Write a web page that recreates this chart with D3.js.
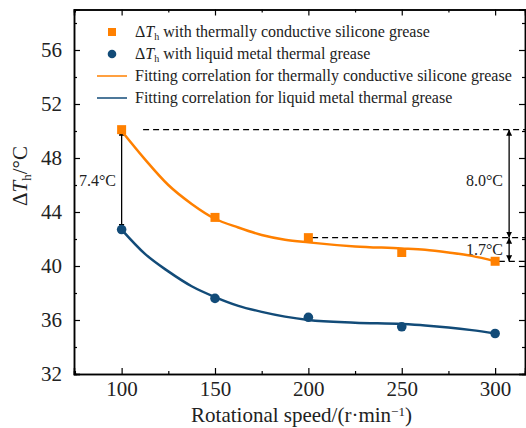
<!DOCTYPE html>
<html><head><meta charset="utf-8">
<script src="https://cdn.jsdelivr.net/npm/d3@7/dist/d3.min.js"></script>
<style>body{margin:0;background:#fff}svg{display:block;font-family:"Liberation Serif","Times New Roman",serif}</style>
</head><body>
<svg id="c" width="526" height="428"></svg>
<script>
const speeds = [100, 150, 200, 250, 300];
const siliconeVals = [50.1, 43.6, 42.1, 41.0, 40.35];
const liquidVals = [42.7, 37.6, 36.2, 35.5, 35.0];
const fitX = [100, 112.5, 125, 137.5, 150, 162.5, 175, 187.5, 200, 225, 250, 262.5, 275, 287.5, 300];
const siliconeFit = [50.0, 47.9, 46.0, 44.6, 43.5, 42.85, 42.3, 41.95, 41.75, 41.45, 41.3, 41.2, 41.0, 40.75, 40.35];
const liquidFit = [42.7, 40.9, 39.6, 38.5, 37.7, 37.05, 36.6, 36.25, 36.0, 35.8, 35.7, 35.6, 35.45, 35.25, 35.0];
const xTicks = [100, 150, 200, 250, 300];
const yTicks = [32, 36, 40, 44, 48, 52, 56];
const legendLabels = ["with thermally conductive silicone grease", "with liquid metal thermal grease",
  "Fitting correlation for thermally conductive silicone grease", "Fitting correlation for liquid metal thermal grease"];

const ORANGE = "#ff8000", BLUE = "#124b78";
const svg = d3.select("#c");
const L = 74, R = 525, T = 9.5, B = 374;
const x = d3.scaleLinear().domain([74.5, 316]).range([L, R]);
const y = d3.scaleLinear().domain([32, 59]).range([B, T]);

// axes
const fs = 21;
svg.append("g").attr("transform", `translate(0,${B})`)
  .call(d3.axisBottom(x).tickValues(xTicks).tickSize(-6).tickPadding(7).tickFormat(d3.format("d")));
svg.append("g").attr("transform", `translate(0,${B})`)
  .call(d3.axisBottom(x).tickValues([75,125,175,225,275]).tickSize(-3).tickFormat(""));
svg.append("g").attr("transform", `translate(0,${T})`)
  .call(d3.axisTop(x).tickValues(xTicks).tickSize(-6).tickFormat(""));
svg.append("g").attr("transform", `translate(0,${T})`)
  .call(d3.axisTop(x).tickValues([75,125,175,225,275]).tickSize(-3).tickFormat(""));
svg.append("g").attr("transform", `translate(${L},0)`)
  .call(d3.axisLeft(y).tickValues(yTicks).tickSize(-6).tickPadding(12).tickFormat(d3.format("d")));
svg.append("g").attr("transform", `translate(${L},0)`)
  .call(d3.axisLeft(y).tickValues([34,38,42,46,50,54,58]).tickSize(-3).tickFormat(""));
svg.append("g").attr("transform", `translate(${R},0)`)
  .call(d3.axisRight(y).tickValues(yTicks).tickSize(-6).tickFormat(""));
svg.append("g").attr("transform", `translate(${R},0)`)
  .call(d3.axisRight(y).tickValues([34,38,42,46,50,54,58]).tickSize(-3).tickFormat(""));
svg.selectAll(".domain").attr("stroke", "#000").attr("stroke-width", 1.5);
svg.selectAll(".tick line").attr("stroke", "#000").attr("stroke-width", 1.2);
svg.selectAll(".tick text").attr("font-size", fs).attr("font-family", "Liberation Serif").attr("fill", "#222");

// axis titles
svg.append("text").attr("x", (L + R) / 2 + 2).attr("y", 421.5).attr("text-anchor", "middle")
  .attr("font-size", 21).attr("fill", "#222")
  .html('Rotational speed/(r·min<tspan dy="-6" font-size="13">−1</tspan><tspan dy="6">)</tspan>');
const yt = svg.append("text").attr("transform", "translate(27,176) rotate(-90)").attr("text-anchor", "middle")
  .attr("font-size", fs).attr("fill", "#222");
yt.append("tspan").text("Δ");
yt.append("tspan").attr("font-style", "italic").text("T");
yt.append("tspan").attr("font-size", 13).attr("dy", 4).text("h");
yt.append("tspan").attr("dy", -4).text("/°C");

// annotations
const ann = svg.append("g").attr("stroke", "#000").attr("stroke-width", 1.3);
const dash = "6,4";
ann.append("line").attr("x1", x(111.5)).attr("x2", R).attr("y1", y(siliconeVals[0])).attr("y2", y(siliconeVals[0])).attr("stroke-dasharray", dash);
ann.append("line").attr("x1", x(202)).attr("x2", R).attr("y1", y(siliconeVals[2])).attr("y2", y(siliconeVals[2])).attr("stroke-dasharray", dash);
ann.append("line").attr("x1", x(302)).attr("x2", R).attr("y1", y(siliconeVals[4])).attr("y2", y(siliconeVals[4])).attr("stroke-dasharray", dash);

const defs = svg.append("defs");
defs.append("marker").attr("id", "ah").attr("viewBox", "0 0 10 10").attr("refX", 10).attr("refY", 5)
  .attr("markerWidth", 6).attr("markerHeight", 6).attr("markerUnits", "userSpaceOnUse").attr("orient", "auto-start-reverse")
  .append("path").attr("d", "M0,0L10,5L0,10Z").attr("fill", "#000");
function dArrow(xv, y1, y2) {
  svg.append("line").attr("x1", x(xv)).attr("x2", x(xv)).attr("y1", y(y1)).attr("y2", y(y2))
    .attr("stroke", "#000").attr("stroke-width", 1.3)
    .attr("marker-start", "url(#ah)").attr("marker-end", "url(#ah)");
}
dArrow(100, siliconeVals[0], liquidVals[0]);
dArrow(307.5, siliconeVals[0], siliconeVals[2]);
dArrow(307.5, siliconeVals[2], siliconeVals[4]);
const annFs = 16;
svg.append("text").attr("x", 116).attr("y", y(46.3) + 5).attr("text-anchor", "end").attr("font-size", annFs).attr("fill", "#222").text("7.4°C");
svg.append("text").attr("x", 503).attr("y", y(46.3) + 5).attr("text-anchor", "end").attr("font-size", annFs).attr("fill", "#222").text("8.0°C");
svg.append("text").attr("x", 503).attr("y", y(41.2) + 5).attr("text-anchor", "end").attr("font-size", annFs).attr("fill", "#222").text("1.7°C");

// fit lines
const line = d3.line().x(d => x(d[0])).y(d => y(d[1])).curve(d3.curveMonotoneX);
svg.append("path").datum(d3.zip(fitX, siliconeFit)).attr("d", line).attr("fill", "none").attr("stroke", ORANGE).attr("stroke-width", 2.5);
svg.append("path").datum(d3.zip(fitX, liquidFit)).attr("d", line).attr("fill", "none").attr("stroke", BLUE).attr("stroke-width", 2.5);

// markers
const sq = 9;
svg.selectAll(".sq").data(d3.zip(speeds, siliconeVals)).join("rect")
  .attr("x", d => x(d[0]) - sq / 2).attr("y", d => y(d[1]) - sq / 2).attr("width", sq).attr("height", sq).attr("fill", ORANGE);
svg.selectAll(".ci").data(d3.zip(speeds, liquidVals)).join("circle")
  .attr("cx", d => x(d[0])).attr("cy", d => y(d[1])).attr("r", 4.8).attr("fill", BLUE);

// legend
const lg = svg.append("g");
const lx = 135, ly0 = 32, lstep = 22, lfs = 16;
lg.append("rect").attr("x", 112 - 4).attr("y", ly0 - 4).attr("width", 8).attr("height", 8).attr("fill", ORANGE);
lg.append("circle").attr("cx", 112).attr("cy", ly0 + lstep).attr("r", 4.3).attr("fill", BLUE);
lg.append("line").attr("x1", 97).attr("x2", 127).attr("y1", ly0 + 2 * lstep).attr("y2", ly0 + 2 * lstep).attr("stroke", ORANGE).attr("stroke-width", 1.5);
lg.append("line").attr("x1", 97).attr("x2", 127).attr("y1", ly0 + 3 * lstep).attr("y2", ly0 + 3 * lstep).attr("stroke", BLUE).attr("stroke-width", 1.5);
legendLabels.forEach((t, i) => {
  const tx = lg.append("text").attr("x", lx).attr("y", ly0 + i * lstep + 5).attr("font-size", lfs).attr("fill", "#222");
  if (i < 2) {
    tx.append("tspan").text("Δ");
    tx.append("tspan").attr("font-style", "italic").text("T");
    tx.append("tspan").attr("font-size", 10).attr("dy", 3).text("h");
    tx.append("tspan").attr("dy", -3).text(" " + t);
  } else tx.text(t);
});
</script>
</body></html>
